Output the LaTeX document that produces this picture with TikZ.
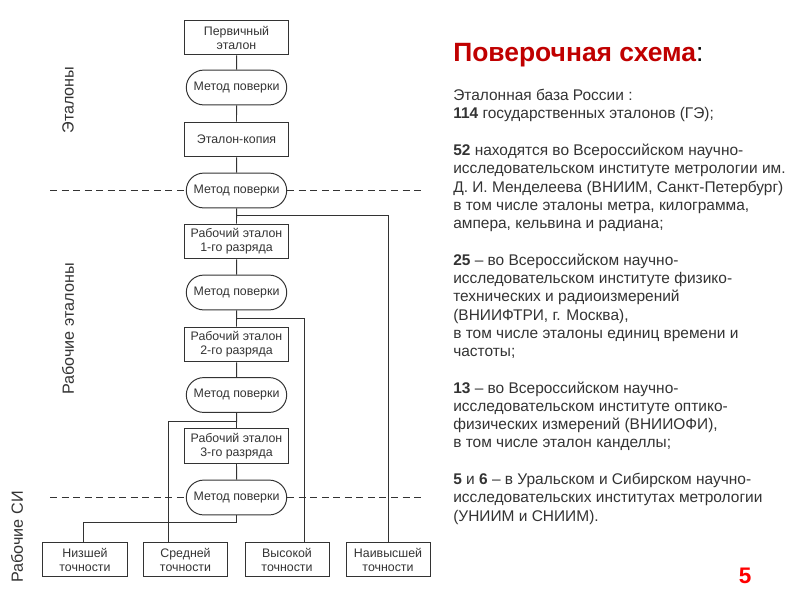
\documentclass[tikz,border=0pt]{standalone}
\usepackage{fontspec}
\setmainfont{Liberation Sans}
\usetikzlibrary{positioning, shapes.misc}
\definecolor{mainGray}{gray}{0.2}
\definecolor{titleRed}{RGB}{192,0,0}

\begin{document}
\begin{tikzpicture}[x=0.025cm, y=-0.025cm,
    box/.style={draw=mainGray, line width=0.7pt, minimum width=2.58cm, minimum height=0.87cm,
        align=center, inner sep=1pt, text=mainGray, font=\fontsize{8.8}{10}\selectfont},
    oval/.style={box, rounded rectangle},
    lowbox/.style={box, minimum width=2.1cm},
    link/.style={draw=mainGray, line width=0.7pt},
    sep/.style={link, dash pattern=on 5pt off 3.2pt},
    side/.style={rotate=90, text=mainGray, font=\fontsize{11.5}{13}\selectfont}]
    \useasboundingbox (0,0) rectangle (800,600);

    % main chain
    \node[box]  (pe) at (236.5,37.5) {Первичный\\эталон};
    \node[oval] (m1) at (236.5,87.5) {Метод поверки};
    \node[box]  (ek) at (236.5,139.5) {Эталон-копия};
    \node[oval] (m2) at (236.5,190.5) {Метод поверки};
    \node[box]  (r1) at (236.5,241.5) {Рабочий эталон\\1-го разряда};
    \node[oval] (m3) at (236.5,292.5) {Метод поверки};
    \node[box]  (r2) at (236.5,344.5) {Рабочий эталон\\2-го разряда};
    \node[oval] (m4) at (236.5,395) {Метод поверки};
    \node[box]  (r3) at (236.5,446) {Рабочий эталон\\3-го разряда};
    \node[oval] (m5) at (236.5,497.5) {Метод поверки};

    \node[lowbox] (t1) at (85,559.5) {Низшей\\точности};
    \node[lowbox] (t2) at (185.5,559.5) {Средней\\точности};
    \node[lowbox] (t3) at (287,559.5) {Высокой\\точности};
    \node[lowbox] (t4) at (388,559.5) {Наивысшей\\точности};

    \draw[link] (pe) -- (m1) -- (ek) -- (m2) -- (r1) -- (m3) -- (r2) -- (m4) -- (r3) -- (m5);

    % branches to working instruments
    \coordinate (b2) at (388,215);
    \coordinate (b3) at (304,318);
    \coordinate (b4) at (168,421);
    \coordinate (b5) at (83,522);
    \draw[link] (m2.south |- b2) -- (b2) -- (b2 |- t4.north);
    \draw[link] (m3.south |- b3) -- (b3) -- (b3 |- t3.north);
    \draw[link] (m4.south |- b4) -- (b4) -- (b4 |- t2.north);
    \draw[link] (m5.south) -- (m5.south |- b5) -- (b5) -- (b5 |- t1.north);

    % level separators
    \coordinate (s1l) at (50,190.5);  \coordinate (s1r) at (423,190.5);
    \coordinate (s2l) at (50,497.5);  \coordinate (s2r) at (423,497.5);
    \draw[sep] (s1l) -- (m2.west) (m2.east) -- (s1r);
    \draw[sep] (s2l) -- (m5.west) (m5.east) -- (s2r);

    \node[side] (lab1) at (68,100) {Эталоны};
    \node[side] (lab2) at (68,329) {Рабочие эталоны};
    \node[side] (lab3) at (17,537) {Рабочие СИ};

    % text on the right
    \node[anchor=base west, inner sep=0, font=\fontsize{18.8}{22}\selectfont\bfseries] (title) at (453,61)
        {\textcolor{titleRed}{Поверочная схема}\mdseries:};
    \node[anchor=north west, inner sep=0, align=left, text=mainGray,
        font=\fontsize{11}{13}\selectfont] (info) at (453,89) {%
        Эталонная база России :\\
        \textbf{114} государственных эталонов (ГЭ);\\
        ~\\
        \textbf{52} находятся во Всероссийском научно-\\
        исследовательском институте метрологии им.\\
        Д. И. Менделеева (ВНИИМ, Санкт-Петербург)\\
        в том числе эталоны метра, килограмма,\\
        ампера, кельвина и радиана;\\
        ~\\
        \textbf{25} – во Всероссийском научно-\\
        исследовательском институте физико-\\
        технических и радиоизмерений\\
        (ВНИИФТРИ, г. Москва),\\
        в том числе эталоны единиц времени и\\
        частоты;\\
        ~\\
        \textbf{13} – во Всероссийском научно-\\
        исследовательском институте оптико-\\
        физических измерений (ВНИИОФИ),\\
        в том числе эталон канделлы;\\
        ~\\
        \textbf{5} и \textbf{6} – в Уральском и Сибирском научно-\\
        исследовательских институтах метрологии\\
        (УНИИМ и СНИИМ).};

    \node[text=red, font=\fontsize{16}{18}\selectfont\bfseries] (page) at (745,576) {5};
\end{tikzpicture}
\end{document}
